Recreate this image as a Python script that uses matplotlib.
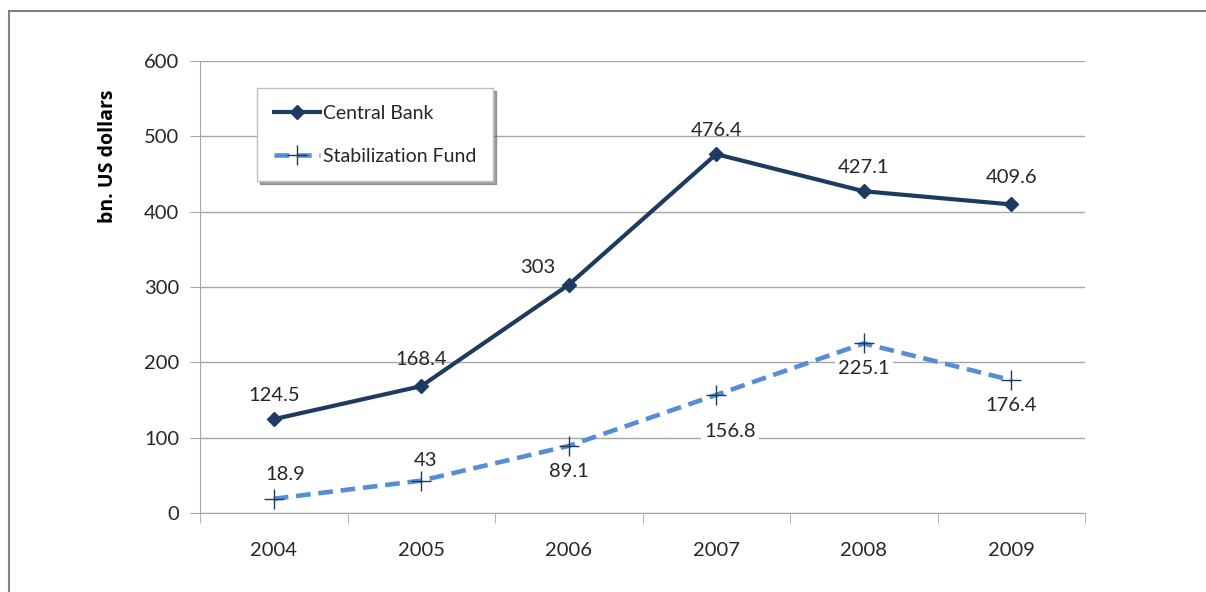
import matplotlib.pyplot as plt
from matplotlib.patches import Rectangle

# Reserves data (bn. US dollars)
years = ['2004', '2005', '2006', '2007', '2008', '2009']
central_bank = [124.5, 168.4, 303, 476.4, 427.1, 409.6]
stab_fund = [18.9, 43, 89.1, 156.8, 225.1, 176.4]
cb_labels = ['124.5', '168.4', '303', '476.4', '427.1', '409.6']
sf_labels = ['18.9', '43', '89.1', '156.8', '225.1', '176.4']

navy = '#1f3a60'
light_blue = '#558ed5'
grid_gray = '#a6a6a6'
text_col = '#262626'

plt.rcParams['font.family'] = ['Lato', 'DejaVu Sans']

fig = plt.figure(figsize=(12.06, 5.92), dpi=100)
ax = fig.add_axes([200 / 1206, 79 / 592, 885 / 1206, 452 / 592])

# outer frame (runs off the right and bottom edge)
fig.patches.append(Rectangle((9 / 1206, -0.1), 1.2, (592 - 11) / 592 + 0.1,
                             transform=fig.transFigure, fill=False,
                             edgecolor='#808080', linewidth=1.5))

x = list(range(len(years)))
ax.plot(x, central_bank, color=navy, lw=3, marker='D', markersize=7,
        label='Central Bank', zorder=4)
ax.plot(x, stab_fund, color=light_blue, lw=3.3, ls=(0, (3.2, 1.7)), marker='+',
        markersize=15, markeredgecolor=navy, markeredgewidth=1,
        label='Stabilization Fund', zorder=3)

# data labels
cb_off = [(0, 11), (0, 13), (-22, 6), (0, 11), (0, 11), (0, 13)]
for i, (v, s) in enumerate(zip(central_bank, cb_labels)):
    ax.annotate(s, (i, v), xytext=cb_off[i], textcoords='offset points',
                ha='center', va='bottom', fontsize=14.5, color=text_col)

sf_off = [(8, 11), (3, 8), (0, -12), (10, -20), (0, -12), (0, -12)]
for i, (v, s) in enumerate(zip(stab_fund, sf_labels)):
    va = 'bottom' if sf_off[i][1] > 0 else 'top'
    ax.annotate(s, (i, v), xytext=sf_off[i], textcoords='offset points',
                ha='center', va=va, fontsize=14.5, color=text_col,
                bbox=dict(boxstyle='square,pad=0.15', fc='white', ec='none'),
                zorder=2)

ax.set_xlim(-0.5, 5.5)
ax.set_ylim(0, 600)
ax.set_yticks(range(0, 601, 100))
ax.set_xticks(x)
ax.set_xticklabels(years)
ax.set_xticks([i - 0.5 for i in range(7)], minor=True)
ax.tick_params(axis='x', which='major', length=0, pad=21, labelsize=14.5, labelcolor=text_col)
ax.tick_params(axis='x', which='minor', length=7, direction='out', color=grid_gray)
ax.tick_params(axis='y', length=7, direction='out', color=grid_gray, pad=8,
               labelsize=14.5, labelcolor=text_col)
ax.grid(axis='y', color=grid_gray, lw=1)
ax.set_axisbelow(True)
for side in ['top', 'right']:
    ax.spines[side].set_visible(False)
for side in ['left', 'bottom']:
    ax.spines[side].set_color(grid_gray)

ax.set_ylabel('bn. US dollars', fontsize=14, fontweight='bold',
              family=['Open Sans', 'DejaVu Sans'], color='black')
ax.yaxis.set_label_coords(-0.093, 0.79)

leg = ax.legend(loc='upper left', bbox_to_anchor=(57 / 885, 1 - 27 / 452),
                fontsize=14, frameon=True, fancybox=False, shadow=True,
                borderpad=0.85, labelspacing=1.35, handlelength=2.4,
                handletextpad=0.15, borderaxespad=0)
leg.get_frame().set_edgecolor('#bfbfbf')
leg.get_frame().set_linewidth(1)
for t in leg.get_texts():
    t.set_color(text_col)

fig.savefig('out.png', dpi=100)
